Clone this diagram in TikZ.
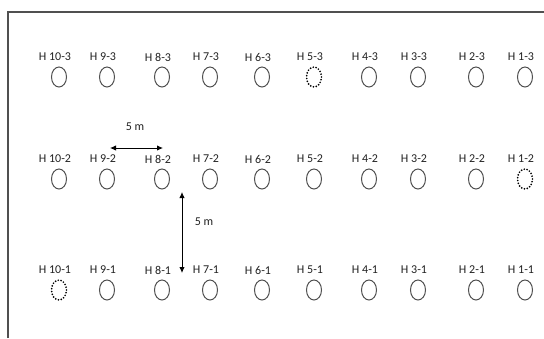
\documentclass[tikz,border=0pt]{standalone}
\usepackage{fontspec}
\setmainfont{Carlito}
\usetikzlibrary{arrows.meta,shapes.geometric}
\definecolor{ink}{HTML}{222222}
\definecolor{hole}{HTML}{505050}
\begin{document}
\begin{tikzpicture}[x=1pt,y=-1pt,
  holebox/.style={draw=hole,line width=1pt,ellipse,minimum width=15pt,minimum height=20pt,inner sep=0pt},
  dotbox/.style={holebox,draw=black,line width=1.9pt,dash pattern=on 0pt off 2.9pt,line cap=round},
  tagbox/.style={font=\fontsize{12}{12}\selectfont,text=ink,inner sep=0pt,anchor=center},
  dimarrow/.style={draw=black,line width=1pt,{Latex[length=6pt,width=5.5pt]}-{Latex[length=6pt,width=5.5pt]}}]
\useasboundingbox (0,0) rectangle (544,338);
\fill[white] (0,0) rectangle (544,338);
\coordinate (tl) at (8,12);
\coordinate (tr) at (544,12);
\coordinate (bl) at (8,338);
\draw[draw=hole,line width=1.2pt] (bl) -- (tl) -- (tr);
\foreach \n/\x in {10/59,9/107,8/162,7/210,6/262,5/314,4/369,3/418,2/476,1/525}{
  \foreach \r/\y in {3/77,2/179,1/290}{
    \node[tagbox] (l\n-\r) at (\x-4,\y-20) {H \n-\r};
  }
}
\foreach \n/\x in {10/59,9/107,8/162,7/210,6/262,4/369,3/418,2/476,1/525}{
  \node[holebox] (h\n-3) at (\x,77) {};
}
\node[dotbox] (h5-3) at (314,77) {};
\foreach \n/\x in {10/59,9/107,8/162,7/210,6/262,5/314,4/369,3/418,2/476}{
  \node[holebox] (h\n-2) at (\x,179) {};
}
\node[dotbox] (h1-2) at (525,179) {};
\foreach \n/\x in {9/107,8/162,7/210,6/262,5/314,4/369,3/418,2/476,1/525}{
  \node[holebox] (h\n-1) at (\x,290) {};
}
\node[dotbox] (h10-1) at (59,290) {};
\coordinate (ha) at (110,148);
\coordinate (hb) at (163,148);
\coordinate (va) at (182,192);
\coordinate (vb) at (182,273);
\draw[dimarrow] (ha) -- (hb);
\draw[dimarrow] (va) -- (vb);
\node[tagbox] (dh) at (135,127) {5 m};
\node[tagbox] (dv) at (204,222) {5 m};
\end{tikzpicture}
\end{document}
